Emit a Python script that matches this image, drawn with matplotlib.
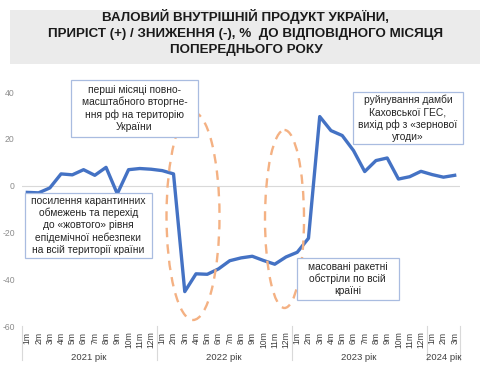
import numpy as np
import matplotlib.pyplot as plt
from matplotlib.patches import Rectangle, Ellipse

plt.rcParams['font.family'] = ['Liberation Sans', 'DejaVu Sans']
plt.rcParams['axes.unicode_minus'] = False

# Дані: приріст ВВП, % до відповідного місяця попереднього року
months = ['1m', '2m', '3m', '4m', '5m', '6m', '7m', '8m', '9m', '10m', '11m', '12m']
years = ['2021 рік', '2022 рік', '2023 рік', '2024 рік']
v2021 = [-2.9, -3.1, -1.0, 5.0, 4.6, 6.8, 4.4, 7.8, -3.5, 6.8, 7.3, 7.0]
v2022 = [6.4, 5.0, -45.3, -37.7, -37.9, -35.6, -32.1, -30.9, -30.2, -32.0, -33.6, -30.5]
v2023 = [-28.5, -22.5, 29.5, 23.5, 21.4, 15.0, 6.0, 10.7, 11.8, 2.8, 3.8, 6.1]
v2024 = [4.7, 3.6, 4.4]

series = [v2021, v2022, v2023, v2024]
values = v2021 + v2022 + v2023 + v2024
labels = []
for s in series:
    labels += months[:len(s)]
x = np.arange(len(values))

W, H = 485, 371
fig = plt.figure(figsize=(W / 100, H / 100), dpi=100)

# основний графік
left, right, top, bottom = 21.7, 460.3, 92, 326
ax = fig.add_axes([left / W, 1 - bottom / H, (right - left) / W, (bottom - top) / H])
ax.plot(x, values, color='#4472C4', lw=2.4, solid_joinstyle='round', zorder=3)
ax.axhline(0, color='#D9D9D9', lw=0.8, zorder=1)
ax.set_xlim(-0.5, len(values) - 0.5)
ax.set_ylim(-60, 40)
ax.set_yticks(range(-60, 41, 20))
ax.set_xticks(x)
ax.set_xticklabels(labels, rotation=90, fontsize=6.2, color='#404040')
ax.tick_params(axis='x', length=0, pad=4)
ax.tick_params(axis='y', length=0, pad=5, labelsize=6.2, labelcolor='#8C8C8C')
for sp in ax.spines.values():
    sp.set_visible(False)
ax.patch.set_alpha(0)

# підписи років та роздільники
tr = ax.get_xaxis_transform()
start = 0
bounds = [-0.5]
for name, s in zip(years, series):
    end = start + len(s)
    ax.text((start + end - 1) / 2, -(357 - bottom) / (bottom - top), name,
            transform=tr, ha='center', va='center', fontsize=6.8, color='#404040')
    bounds.append(end - 0.5)
    start = end
for b in bounds:
    ax.plot([b, b], [0, -(360 - bottom) / (bottom - top)], transform=tr,
            color='#D9D9D9', lw=0.8, clip_on=False)

# шар для оформлення в піксельних координатах
ov = fig.add_axes([0, 0, 1, 1], zorder=5)
ov.set_xlim(0, W)
ov.set_ylim(H, 0)
ov.axis('off')
ov.patch.set_alpha(0)

ov.add_patch(Rectangle((10, 10), 470, 54, fc='#EBEBEB', ec='none'))
title = ['ВАЛОВИЙ ВНУТРІШНІЙ ПРОДУКТ УКРАЇНИ,',
         'ПРИРІСТ (+) / ЗНИЖЕННЯ (-), %  ДО ВІДПОВІДНОГО МІСЯЦЯ',
         'ПОПЕРЕДНЬОГО РОКУ']
for i, t in enumerate(title):
    ov.text(246, 17 + i * 16.7, t, ha='center', va='center', fontsize=9.6,
            fontweight='bold', color='#1A1A1A')

# пунктирні еліпси
for cx, cy, w, h in [(193, 216, 53, 208), (284.5, 219, 39, 178)]:
    ov.add_patch(Ellipse((cx, cy), w, h, fill=False, ec='#F4B183', lw=1.7,
                         linestyle=(0, (4, 3))))

# текстові блоки
notes = [
    ((71, 80, 198, 137), 'перші місяці повно-\nмасштабного вторгне-\nння рф на територію\nУкраїни'),
    ((25, 193, 152, 257.5), 'посилення карантинних\nобмежень та перехід\nдо «жовтого» рівня\nепідемічної небезпеки\nна всій території країни'),
    ((352.7, 92.3, 463.3, 144.3), 'руйнування дамби\nКаховської ГЕС,\nвихід рф з «зернової\nугоди»'),
    ((296.7, 257.7, 399, 300), 'масовані ракетні\nобстріли по всій\nкраїні'),
]
for (x0, y0, x1, y1), txt in notes:
    ov.add_patch(Rectangle((x0, y0), x1 - x0, y1 - y0, fc='white', ec='#A9BCE0', lw=0.9))
    ov.text((x0 + x1) / 2, (y0 + y1) / 2, txt, ha='center', va='center',
            fontsize=7.4, color='#262626', linespacing=1.25)

fig.savefig('out.png', dpi=100)
